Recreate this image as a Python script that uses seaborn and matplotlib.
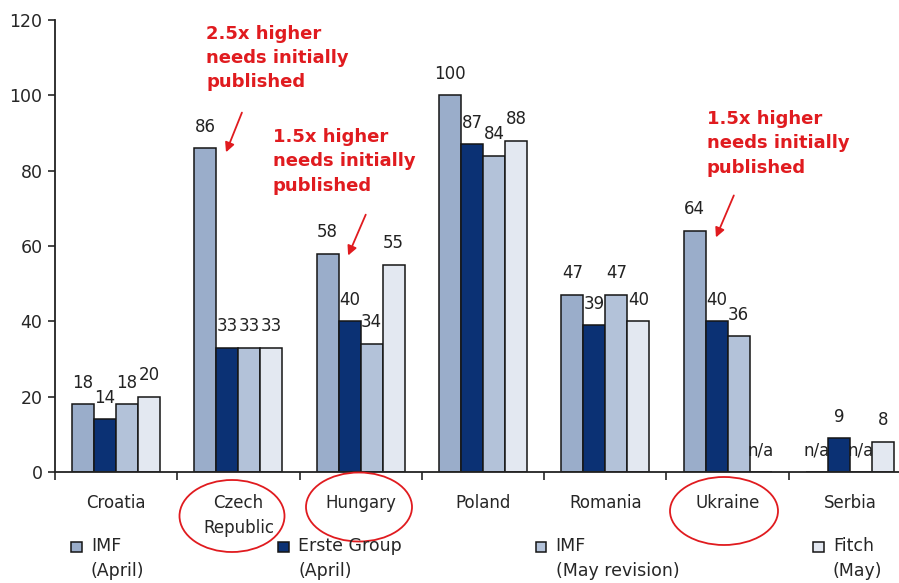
import numpy as np
import pandas as pd
import matplotlib
matplotlib.use("Agg")
import matplotlib.pyplot as plt
from matplotlib.patches import Ellipse, Rectangle, Patch
from matplotlib.legend_handler import HandlerPatch
import seaborn as sns

# ------ Dados ------ #
categories = ["Croatia", "Czech\nRepublic", "Hungary", "Poland", "Romania", "Ukraine", "Serbia"]
series_names = ["IMF (April)", "Erste Group (April)", "IMF (May revision)", "Fitch (May)"]
legend_labels = ["IMF\n(April)", "Erste Group\n(April)", "IMF\n(May revision)", "Fitch\n(May)"]
imf_april = [18, 86, 58, 100, 47, 64, None]
erste_april = [14, 33, 40, 87, 39, 40, 9]
imf_may = [18, 33, 34, 84, 47, 36, None]
fitch_may = [20, 33, 55, 88, 40, None, 8]
colors = ["#9aadca", "#0b3174", "#b3c2d9", "#e3e8f1"]
y_ticks = [0, 20, 40, 60, 80, 100, 120]

notes = ["2.5x higher\nneeds initially\npublished"] * 1 + ["1.5x higher\nneeds initially\npublished"] * 2
RED = "#e01b1f"

# monta o dataframe longo
rows = []
for name, vals in zip(series_names, [imf_april, erste_april, imf_may, fitch_may]):
    for cat, v in zip(categories, vals):
        rows.append({"country": cat, "source": name, "value": v})
df = pd.DataFrame(rows)
df["plot_value"] = df["value"].fillna(0)

# ------ Figura ------ #
sns.set_theme(style="white")
plt.rcParams["font.family"] = ["DejaVu Sans"]

fig = plt.figure(figsize=(8.99, 5.83), dpi=100)
W, H = 899, 583
ax = fig.add_axes([55 / W, (H - 472) / H, (911 - 55) / W, (472 - 20) / H])

sns.barplot(data=df, x="country", y="plot_value", hue="source", order=categories,
            hue_order=series_names, palette=colors, saturation=1, width=0.72, errorbar=None,
            edgecolor="#151515", linewidth=1.1, legend=False, ax=ax)

# rótulos dos valores
for cont, name in zip(ax.containers, series_names):
    vals = df[df["source"] == name].set_index("country").loc[categories, "value"]
    labels = ["n/a" if pd.isna(v) else f"{v:.0f}" for v in vals]
    ax.bar_label(cont, labels=labels, padding=9, fontsize=12, color="#222222")

ax.set_xlim(-0.5, len(categories) - 0.5)
ax.set_ylim(0, 120)
ax.set_yticks(y_ticks)
ax.set_xlabel("")
ax.set_ylabel("")
ax.tick_params(axis="y", labelsize=12.5, length=5, width=1.2, direction="out", left=True, pad=4)
ax.set_xticks(range(len(categories)))
ax.set_xticklabels(categories, fontsize=12, linespacing=1.5)
ax.tick_params(axis="x", which="major", length=0, pad=15.5)
ax.set_xticks(np.arange(-0.5, len(categories), 1), minor=True)
ax.tick_params(axis="x", which="minor", length=6, width=1.2, direction="out", bottom=True)
for s in ["top", "right"]:
    ax.spines[s].set_visible(False)
for s in ["left", "bottom"]:
    ax.spines[s].set_color("#222222")
    ax.spines[s].set_linewidth(1.3)

# anotações em vermelho
note_pos = [(0.735, 118.8), (1.28, 91.3), (4.83, 96.1)]
arrow_from = [(1.037, 96.1), (2.05, 69.0), (5.06, 74.1)]
arrow_to = [(0.89, 84.2), (1.888, 56.8), (4.896, 61.6)]
for txt, pos, a0, a1 in zip(notes, note_pos, arrow_from, arrow_to):
    ax.text(pos[0], pos[1], txt, color=RED, fontsize=13, fontweight="bold",
            va="top", ha="left", linespacing=1.45)
    ax.annotate("", xy=a1, xytext=a0,
                arrowprops=dict(arrowstyle="-|>", color=RED, lw=1.3, mutation_scale=14))

# elipses em volta dos países
for cx, cy, w, h in [(232, 516, 105, 72), (359, 507, 106, 69), (724, 511, 108, 68)]:
    fig.patches.append(Ellipse((cx / W, 1 - cy / H), w / W, h / H, transform=fig.transFigure,
                               fill=False, edgecolor=RED, lw=1.3))

# legenda com o quadrado alinhado à primeira linha
def top_square(legend, orig_handle, xdescent, ydescent, width, height, fontsize):
    s = 0.62 * fontsize
    return Rectangle((-xdescent, -ydescent + height / 2 - s / 2 + 9), s, s)

handles = [Patch(facecolor=c, edgecolor="#151515", linewidth=1.1) for c in colors]
leg = fig.legend(handles, legend_labels, loc="upper left", bbox_to_anchor=(71 / W, 1 - 537 / H),
                 ncol=4, frameon=False, fontsize=12.5, handlelength=0.7, handletextpad=0.45,
                 columnspacing=7.7, borderpad=0, borderaxespad=0,
                 handler_map={Patch: HandlerPatch(patch_func=top_square)})
for t in leg.get_texts():
    t.set_linespacing(1.5)

fig.savefig("out.png", dpi=100)
